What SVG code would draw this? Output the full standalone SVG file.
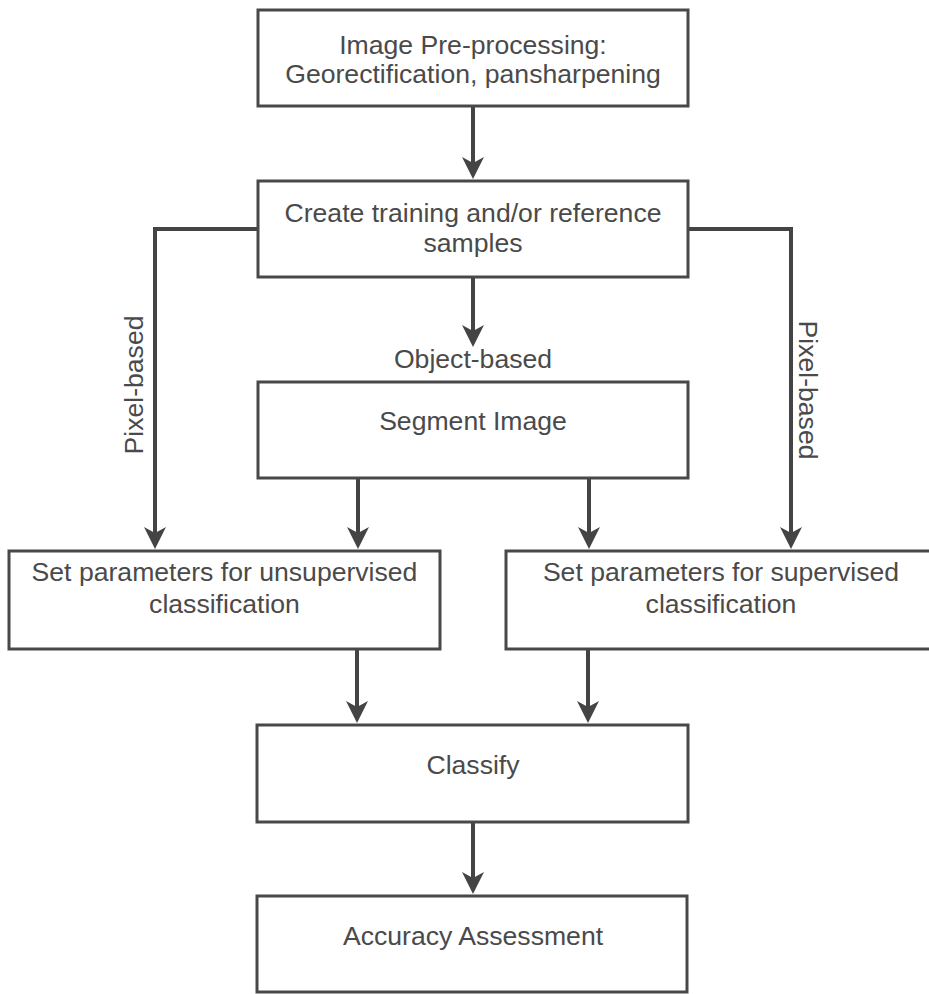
<svg xmlns="http://www.w3.org/2000/svg" width="929" height="994" viewBox="0 0 929 994">
<style>
.box{fill:#ffffff;stroke:#484848;stroke-width:3}
.t{font-family:"Liberation Sans",Arial,sans-serif;font-size:26.6px;fill:#4a4a4a;text-anchor:middle}
.c{fill:none;stroke:#444444;stroke-width:4}
</style>
<defs>
<marker id="ah" markerUnits="userSpaceOnUse" markerWidth="40" markerHeight="40" refX="0" refY="0" orient="auto" overflow="visible">
<path d="M10,0 L-12,-11 L-6,0 L-12,11 Z" fill="#444444"/>
</marker>
</defs>
<rect width="929" height="994" fill="#ffffff"/>
<g id="connectors">
<path class="c" d="M473,106 V169" marker-end="url(#ah)"/>
<path class="c" d="M258,229 H155 V539" marker-end="url(#ah)"/>
<path class="c" d="M688,229 H791 V539" marker-end="url(#ah)"/>
<path class="c" d="M473,277 V337" marker-end="url(#ah)"/>
<path class="c" d="M358,478 V539" marker-end="url(#ah)"/>
<path class="c" d="M589,476 V539" marker-end="url(#ah)"/>
<path class="c" d="M357,649 V713" marker-end="url(#ah)"/>
<path class="c" d="M588,649 V713" marker-end="url(#ah)"/>
<path class="c" d="M473,822 V884" marker-end="url(#ah)"/>
<text class="t" x="473" y="368">Object-based</text>
<text class="t" transform="translate(143,385) rotate(-90)">Pixel-based</text>
<text class="t" transform="translate(799,390) rotate(90)">Pixel-based</text>
</g>
<g id="preprocessing">
<rect class="box" x="258" y="10" width="430" height="96"/>
<text class="t" x="473" y="54">Image Pre-processing:</text>
<text class="t" x="473" y="83">Georectification, pansharpening</text>
</g>
<g id="training">
<rect class="box" x="258" y="181" width="430" height="96"/>
<text class="t" x="473" y="222">Create training and/or reference</text>
<text class="t" x="473" y="252">samples</text>
</g>
<g id="segment">
<rect class="box" x="258" y="382" width="430" height="96"/>
<text class="t" x="473" y="430">Segment Image</text>
</g>
<g id="unsupervised">
<rect class="box" x="9" y="551" width="431" height="98"/>
<text class="t" x="224.5" y="581">Set parameters for unsupervised</text>
<text class="t" x="224.5" y="613">classification</text>
</g>
<g id="supervised">
<rect class="box" x="506" y="551" width="430" height="98"/>
<text class="t" x="721" y="581">Set parameters for supervised</text>
<text class="t" x="721" y="613">classification</text>
</g>
<g id="classify">
<rect class="box" x="257" y="725" width="431" height="97"/>
<text class="t" x="473" y="774">Classify</text>
</g>
<g id="accuracy">
<rect class="box" x="257" y="896" width="430" height="96"/>
<text class="t" x="473" y="945">Accuracy Assessment</text>
</g>
</svg>
